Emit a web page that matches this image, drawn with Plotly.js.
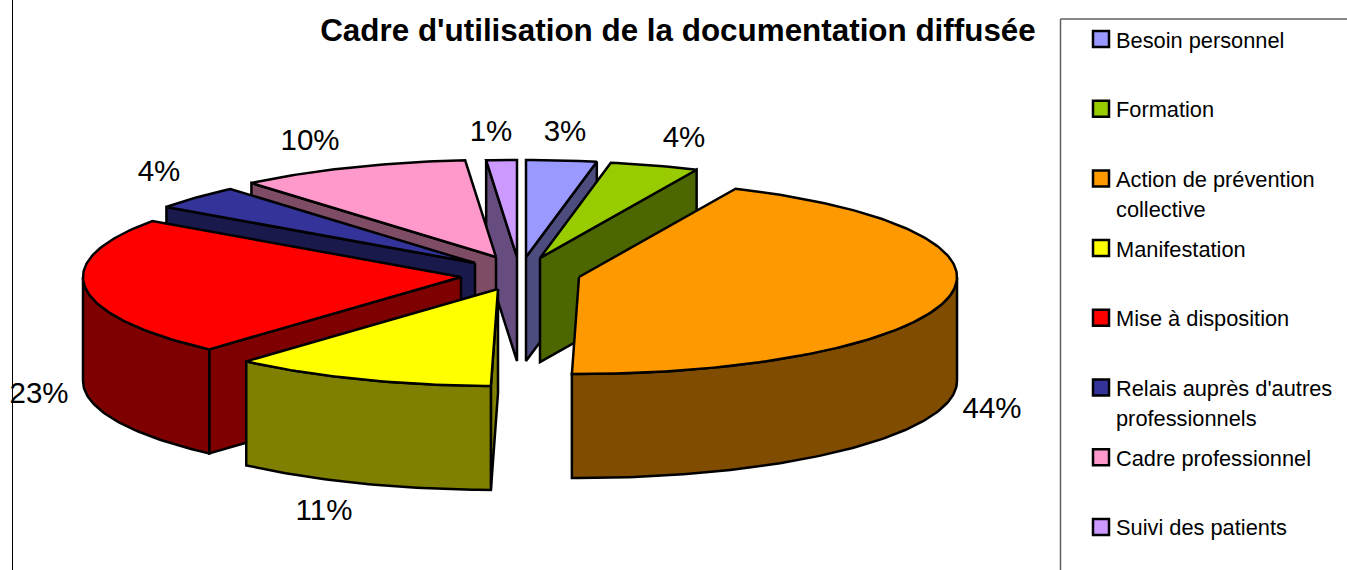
<!DOCTYPE html>
<html>
<head>
<meta charset="utf-8">
<script src="https://cdn.plot.ly/plotly-3.0.1.min.js"></script>
<style>html,body{margin:0;padding:0;background:#fff;overflow:hidden}</style>
</head>
<body>
<div id="chart" style="width:1347px;height:570px"></div>
<script>
// ---- data ----
const categories = ["Besoin personnel", "Formation", "Action de prévention collective", "Manifestation",
  "Mise à disposition", "Relais auprès d'autres professionnels", "Cadre professionnel", "Suivi des patients"];
const legendLines = [["Besoin personnel"], ["Formation"], ["Action de prévention", "collective"], ["Manifestation"],
  ["Mise à disposition"], ["Relais auprès d'autres", "professionnels"], ["Cadre professionnel"], ["Suivi des patients"]];
const values = [3.0, 3.8, 43.5, 11.3, 23.2, 4.0, 9.9, 1.3];

// ---- styles ----
const topColors  = ["#9999FF", "#99CC00", "#FF9900", "#FFFF00", "#FF0000", "#333399", "#FF99CC", "#CC99FF"];
const sideColors = ["#4C4C7F", "#4C6600", "#7F4C00", "#7F7F00", "#7F0000", "#19194C", "#7F4C66", "#664C7F"];

// ---- layout of the tilted, exploded pie (pixels of the axes) ----
const apexX = [526, 540, 579, 498, 461, 475, 496, 517];
const apexY = [257, 258, 277, 289, 277, 263, 257, 257];
const radiusX = 378, radiusY = 97, depth = 104;
const labelX = [565, 684, 992, 324, 39, 159, 310, 491];
const labelY = [134, 140, 411, 513, 396, 174, 143, 134];
const drawOrder = [7, 0, 1, 6, 5, 4, 2, 3];
const edgeWidth = 2.5;

// ---- build geometry from the values ----
const total = values.reduce((a, b) => a + b, 0);
const bounds = [];
let running = 0;
values.forEach(v => { bounds.push([running / total * 2 * Math.PI, (running + v) / total * 2 * Math.PI]); running += v; });

function rim(i, t, dy) {
  return [apexX[i] + radiusX * Math.sin(t), apexY[i] - radiusY * Math.cos(t) + (dy || 0)];
}
function arc(i, from, to, dy) {
  const n = Math.max(6, Math.ceil((to - from) * 60)), pts = [];
  for (let k = 0; k <= n; k++) pts.push(rim(i, from + (to - from) * k / n, dy));
  return pts;
}
function poly(pts, color, name) {
  const closed = pts.concat([pts[0]]);
  return { type: "scatter", mode: "lines", x: closed.map(p => p[0]), y: closed.map(p => p[1]),
    fill: "toself", fillcolor: color, line: { color: "#000", width: edgeWidth, shape: "linear" },
    name: name, hoverinfo: "name", showlegend: false };
}

const traces = [];
drawOrder.forEach(i => {
  const [a, b] = bounds[i], apex = [apexX[i], apexY[i]], apexLow = [apexX[i], apexY[i] + depth];
  // only the faces turned toward the viewer are drawn
  if (Math.sin(a) < -1e-6) traces.push(poly([apex, rim(i, a), rim(i, a, depth), apexLow], sideColors[i], categories[i]));
  if (Math.sin(b) > 1e-6) traces.push(poly([apex, rim(i, b), rim(i, b, depth), apexLow], sideColors[i], categories[i]));
  const from = Math.max(a, Math.PI / 2), to = Math.min(b, 3 * Math.PI / 2);
  if (to > from) traces.push(poly(arc(i, from, to, 0).concat(arc(i, from, to, depth).reverse()), sideColors[i], categories[i]));
  traces.push(poly([apex].concat(arc(i, a, b, 0)), topColors[i], categories[i]));
});

// percentage labels
traces.push({ type: "scatter", mode: "text", x: labelX, y: labelY,
  text: values.map(v => Math.round(v) + "%"), textposition: "middle center",
  textfont: { family: "Liberation Sans, Arial, sans-serif", size: 29.5, color: "#000" },
  hoverinfo: "skip", showlegend: false });

// legend
const legendTop = 39, legendStep = 69.7, swatchX = 1101, legendTextX = 1116, legendLineGap = 30;
const legendYs = categories.map((c, i) => legendTop + i * legendStep);
traces.push({ type: "scatter", mode: "markers", x: categories.map(() => swatchX), y: legendYs,
  marker: { symbol: "square", size: 16, color: topColors, line: { color: "#000", width: 2.5 } },
  text: categories, hoverinfo: "text", showlegend: false });

const annotations = [];
legendLines.forEach((lines, i) => lines.forEach((t, k) => annotations.push({
  xref: "x", yref: "y", x: legendTextX, y: legendYs[i] + k * legendLineGap + 1, text: t, showarrow: false,
  xanchor: "left", yanchor: "middle", align: "left", borderpad: 0, borderwidth: 0,
  font: { family: "Liberation Sans, Arial, sans-serif", size: 21.8, color: "#000" }
})));

const layout = {
  width: 1347, height: 570, margin: { l: 0, r: 0, t: 0, b: 0 },
  paper_bgcolor: "#fff", plot_bgcolor: "#fff", showlegend: false, hovermode: "closest",
  title: { text: "<b>Cadre d'utilisation de la documentation diffusée</b>",
    font: { family: "Liberation Sans, Arial, sans-serif", size: 31.4, color: "#000" },
    x: 678 / 1347, xanchor: "center", xref: "paper", y: 1 - 30 / 570, yanchor: "middle", yref: "paper" },
  xaxis: { range: [0, 1347], visible: false, fixedrange: true },
  yaxis: { range: [570, 0], visible: false, fixedrange: true },
  annotations: annotations,
  shapes: [
    { type: "line", xref: "x", yref: "y", x0: 12.5, x1: 12.5, y0: 0, y1: 570, line: { color: "#000", width: 1 } },
    { type: "line", xref: "x", yref: "y", x0: 1060.5, x1: 1060.5, y0: 19, y1: 570, line: { color: "#606060", width: 1.5 } },
    { type: "line", xref: "x", yref: "y", x0: 1060.5, x1: 1347, y0: 19, y1: 19, line: { color: "#606060", width: 1.5 } }
  ]
};
Plotly.newPlot("chart", traces, layout, { displayModeBar: false });
</script>
</body>
</html>
